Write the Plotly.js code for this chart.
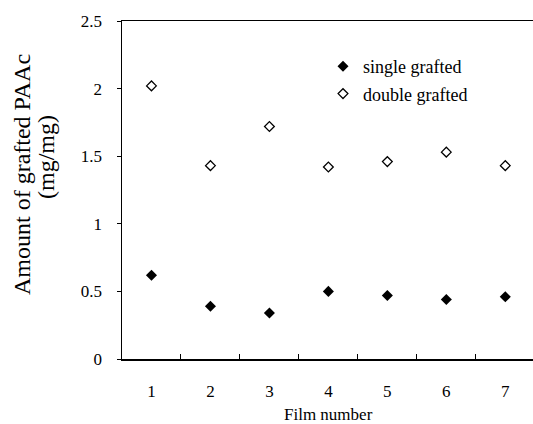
<!DOCTYPE html>
<html>
<head>
<meta charset="utf-8">
<script src="https://cdn.plot.ly/plotly-3.0.1.min.js"></script>
<style>html,body{margin:0;padding:0;background:#fff;}#chart{width:533px;height:424px;}</style>
</head>
<body>
<div id="chart"></div>
<script>
const filmNumbers = ["1", "2", "3", "4", "5", "6", "7"];
const singleGrafted = [0.62, 0.39, 0.34, 0.50, 0.47, 0.44, 0.46];
const doubleGrafted = [2.02, 1.43, 1.72, 1.42, 1.46, 1.53, 1.43];
const yTickVals = [0, 0.5, 1, 1.5, 2, 2.5];
const yTickText = ["0", "0.5", "1", "1.5", "2", "2.5"];
const seriesNames = ["single grafted", "double grafted"];
const xTitle = "Film number";
const yTitleLines = ["Amount of grafted PAAc", "(mg/mg)"];

const FONT = "'Liberation Serif', 'Times New Roman', Times, serif";

const traces = [
  {
    x: filmNumbers, y: singleGrafted, name: seriesNames[0], type: "scatter", mode: "markers",
    legendgroup: "a",
    marker: {symbol: "diamond", size: 8.5, color: "#000"}
  },
  {
    x: filmNumbers, y: doubleGrafted, name: seriesNames[1], type: "scatter", mode: "markers",
    legendgroup: "b",
    marker: {symbol: "diamond-open", size: 7.5, color: "#000", line: {width: 1.3, color: "#000"}}
  }
];

const W = 533, H = 424, ML = 122, MR = 0, MT = 21, MB = 65;
const PW = W - ML - MR;
function px2paperX(px) { return (px - ML) / PW; }
function px2paperY(py) { return (H - MB - py) / (H - MT - MB); }

const layout = {
  width: W, height: H,
  margin: {l: ML, r: MR, t: MT, b: MB, pad: 0},
  paper_bgcolor: "#fff", plot_bgcolor: "#fff",
  font: {family: FONT, color: "#000", size: 17},
  showlegend: true,
  legend: {
    x: px2paperX(323), y: px2paperY(48), xanchor: "left", yanchor: "top",
    bgcolor: "rgba(0,0,0,0)", font: {family: FONT, size: 18, color: "#000"},
    tracegroupgap: 1, itemwidth: 30
  },
  xaxis: {
    type: "category",
    range: [-0.5, 6.47],
    tickson: "boundaries",
    ticks: "inside", ticklen: 5, tickwidth: 1, tickcolor: "#000",
    showline: true, linecolor: "#000", linewidth: 1.5, mirror: true,
    showgrid: false, zeroline: false,
    tickfont: {family: FONT, size: 17, color: "#000"},
    ticklabelstandoff: 16
  },
  yaxis: {
    range: [0, 2.5],
    tickvals: yTickVals, ticktext: yTickText,
    ticks: "outside", ticklen: 4, tickwidth: 1, tickcolor: "#000",
    showline: true, linecolor: "#000", linewidth: 1.5,
    showgrid: false, zeroline: false,
    tickfont: {family: FONT, size: 17, color: "#000"},
    ticklabelstandoff: 11
  },
  annotations: [
    {text: xTitle, xref: "paper", yref: "paper", x: px2paperX(328), y: px2paperY(414),
     xanchor: "center", yanchor: "middle", showarrow: false, font: {family: FONT, size: 17, color: "#000"}},
    {text: yTitleLines[0], xref: "paper", yref: "paper", x: px2paperX(22), y: px2paperY(175),
     xanchor: "center", yanchor: "middle", textangle: -90, showarrow: false, font: {family: FONT, size: 24, color: "#000"}},
    {text: yTitleLines[1], xref: "paper", yref: "paper", x: px2paperX(46), y: px2paperY(157),
     xanchor: "center", yanchor: "middle", textangle: -90, showarrow: false, font: {family: FONT, size: 24, color: "#000"}}
  ]
};

Plotly.newPlot("chart", traces, layout, {staticPlot: true, displayModeBar: false});
</script>
</body>
</html>
